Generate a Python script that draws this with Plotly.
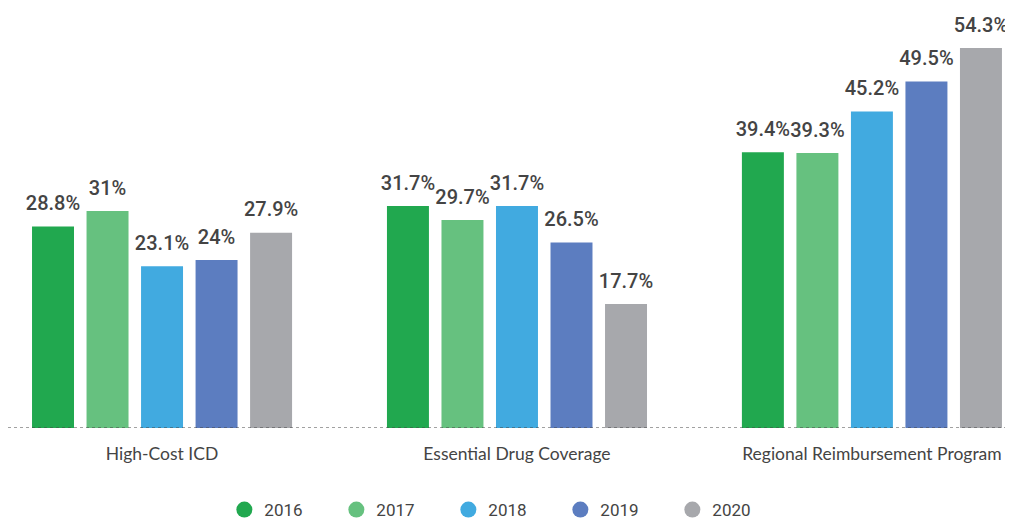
import plotly.graph_objects as go

categories = ["High-Cost ICD", "Essential Drug Coverage", "Regional Reimbursement Program"]
years = ["2016", "2017", "2018", "2019", "2020"]
values = {
    "2016": [28.8, 31.7, 39.4],
    "2017": [31.0, 29.7, 39.3],
    "2018": [23.1, 31.7, 45.2],
    "2019": [24.0, 26.5, 49.5],
    "2020": [27.9, 17.7, 54.3],
}
labels = {
    "2016": ["28.8%", "31.7%", "39.4%"],
    "2017": ["31%", "29.7%", "39.3%"],
    "2018": ["23.1%", "31.7%", "45.2%"],
    "2019": ["24%", "26.5%", "49.5%"],
    "2020": ["27.9%", "17.7%", "54.3%"],
}
colors = ["#21A84F", "#66C17F", "#41AAE0", "#5C7DC0", "#A7A8AC"]
label_pad = 1.2  # spacing between bar top and its label, in axis units

fig = go.Figure()
for yr, c in zip(years, colors):
    fig.add_trace(go.Bar(
        x=categories, y=values[yr], name=yr, marker_color=c,
        marker_line_width=0,
        offsetgroup=yr, showlegend=False, hoverinfo="skip",
    ))
    # transparent spacer carrying the value label
    fig.add_trace(go.Bar(
        x=categories, y=[label_pad] * len(categories), base=values[yr],
        offsetgroup=yr, marker_color="rgba(0,0,0,0)", marker_line_width=0,
        text=labels[yr], textposition="outside", constraintext="none",
        cliponaxis=False,
        textfont=dict(family="Roboto", size=20, color="#444444", weight=500),
        showlegend=False, hoverinfo="skip",
    ))
for yr, c in zip(years, colors):
    fig.add_trace(go.Scatter(
        x=[None], y=[None], mode="markers", name=yr,
        marker=dict(symbol="circle", size=18, color=c),
    ))

fig.add_shape(type="line", xref="paper", yref="y", x0=0, x1=1, y0=0, y1=0,
              line=dict(color="#444444", width=1.2, dash="dot"))

fig.update_layout(
    width=1013, height=520,
    margin=dict(l=0, r=0, t=0, b=100, autoexpand=False),
    plot_bgcolor="white", paper_bgcolor="white",
    barmode="group", bargap=0.232, bargroupgap=0.23,
    xaxis=dict(range=[-0.434, 2.420], showgrid=False, zeroline=False, showline=False,
               ticks="", ticklabelstandoff=13,
               tickfont=dict(family="Lato", size=17.5, color="#444444")),
    yaxis=dict(range=[0, 60], visible=False),
    legend=dict(orientation="h", xref="container", x=0.49, xanchor="center",
                yref="container", y=0.0, yanchor="bottom",
                font=dict(family="Roboto", size=17, color="#444444"),
                entrywidth=67, itemwidth=30),
)
fig.write_html("out.html")
